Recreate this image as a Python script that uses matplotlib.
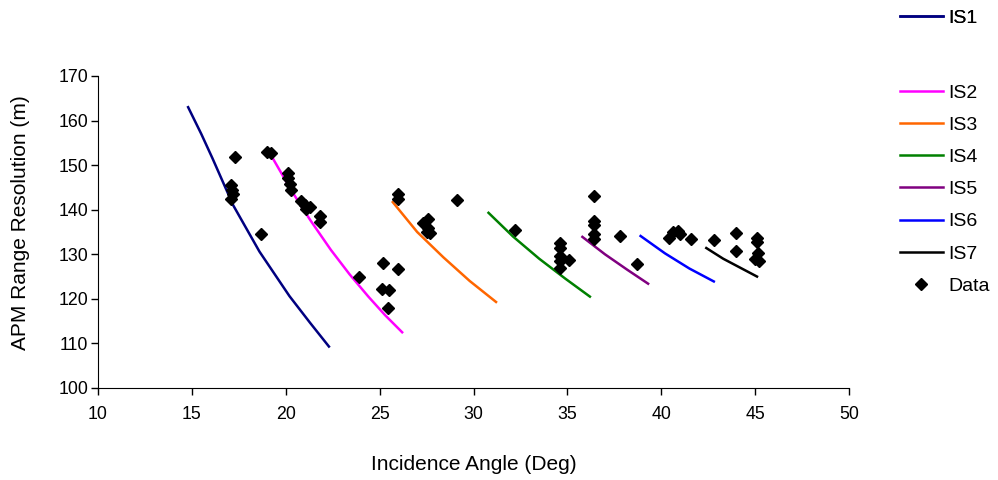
import matplotlib
matplotlib.use("Agg")
import matplotlib.pyplot as plt

plt.rcParams['font.family'] = ['Liberation Sans', 'DejaVu Sans']

# Model curves
is1_x = [14.8, 15.5, 16.1, 17.2, 18.6, 20.2, 21.3, 22.3]
is1_y = [163.0, 157.0, 151.5, 141.0, 130.6, 120.6, 114.6, 109.3]
is2_x = [19.3, 20.3, 21.3, 22.4, 23.4, 24.4, 25.3, 26.2]
is2_y = [151.6, 144.3, 137.7, 131.0, 125.5, 120.5, 116.3, 112.5]
is3_x = [25.7, 27.0, 28.4, 29.8, 31.2]
is3_y = [141.7, 135.0, 129.3, 124.0, 119.3]
is4_x = [30.8, 32.1, 33.5, 34.9, 36.2]
is4_y = [139.3, 134.0, 129.0, 124.5, 120.5]
is5_x = [35.8, 37.0, 38.2, 39.3]
is5_y = [133.9, 130.0, 126.5, 123.4]
is6_x = [38.9, 40.2, 41.5, 42.8]
is6_y = [134.1, 130.2, 126.8, 123.9]
is7_x = [42.4, 43.3, 44.2, 45.1]
is7_y = [131.4, 129.0, 127.0, 125.0]

# Measured data
data_x = [17.3, 17.1, 17.15, 17.2, 17.1, 18.7,
          19.0, 19.2, 20.1, 20.1, 20.2, 20.3,
          20.8, 21.0, 21.1, 21.3, 21.8, 21.8,
          23.9, 25.2, 26.0, 25.1, 25.5, 25.45,
          26.0, 26.0, 27.3, 27.6, 27.6, 27.5, 27.7, 29.1,
          32.2, 34.6, 34.6, 34.6, 34.6, 34.6, 35.1,
          36.4, 36.4, 36.4, 36.4, 36.4, 37.8, 38.7,
          40.4, 40.6, 40.9, 41.0, 41.6, 42.8, 44.0, 44.0,
          45.1, 45.1, 45.15, 45.0, 45.2]
data_y = [151.8, 145.5, 144.5, 143.5, 142.5, 134.5,
          153.0, 152.8, 148.3, 147.0, 145.8, 144.5,
          142.0, 141.0, 140.2, 140.5, 138.5, 137.2,
          125.0, 128.0, 126.8, 122.3, 122.0, 118.0,
          143.5, 142.5, 137.0, 138.0, 136.0, 135.0, 134.8, 142.2,
          135.4, 132.5, 131.5, 129.5, 128.5, 127.0, 128.8,
          143.0, 137.5, 136.5, 134.5, 133.5, 134.2, 127.8,
          133.6, 135.0, 135.2, 134.5, 133.5, 133.2, 134.8, 130.8,
          133.7, 132.8, 130.3, 129.0, 128.6]

series = [
    ("IS1", is1_x, is1_y, "#000080"),
    ("IS2", is2_x, is2_y, "#FF00FF"),
    ("IS3", is3_x, is3_y, "#FF6600"),
    ("IS4", is4_x, is4_y, "#008000"),
    ("IS5", is5_x, is5_y, "#800080"),
    ("IS6", is6_x, is6_y, "#0000FF"),
    ("IS7", is7_x, is7_y, "#000000"),
]

fig = plt.figure(figsize=(9.98, 4.8), dpi=100)
ax = fig.add_axes([0.0982, 0.1917, 0.7525, 0.65])

handles = []
for name, xs, ys, c in series:
    h, = ax.plot(xs, ys, color=c, lw=1.8, label=name)
    handles.append(h)
hd, = ax.plot(data_x, data_y, linestyle='none', marker='D', color='black',
              markersize=6.3, label='Data')

ax.set_xlim(10, 50)
ax.set_ylim(100, 170)
ax.set_xticks(range(10, 51, 5))
ax.set_yticks(range(100, 171, 10))
for s in ['top', 'right']:
    ax.spines[s].set_visible(False)
ax.tick_params(direction='out', length=5, width=1, labelsize=12.8)
ax.tick_params(axis='x', pad=8)
ax.tick_params(axis='y', pad=2)
ax.set_xlabel("Incidence Angle (Deg)", fontsize=15)
ax.set_ylabel("APM Range Resolution (m)", fontsize=15)
ax.xaxis.set_label_coords(0.5, -0.215)
ax.yaxis.set_label_coords(-0.09, 0.53)

common = dict(frameon=False, fontsize=14, handlelength=2.2, handletextpad=0.28,
              borderaxespad=0, borderpad=0)
leg1 = fig.legend(handles=[handles[0]], labels=["IS1"], loc='center left',
                  bbox_to_anchor=(900/998, 1 - 18/480), **common)
fig.add_artist(leg1)
leg2 = fig.legend(handles=handles[1:] + [hd],
                  labels=["IS2", "IS3", "IS4", "IS5", "IS6", "IS7", "Data"],
                  loc='upper left', bbox_to_anchor=(900/998, 1 - 84/480),
                  labelspacing=0.75, **common)

fig.savefig("out.png", dpi=100)
